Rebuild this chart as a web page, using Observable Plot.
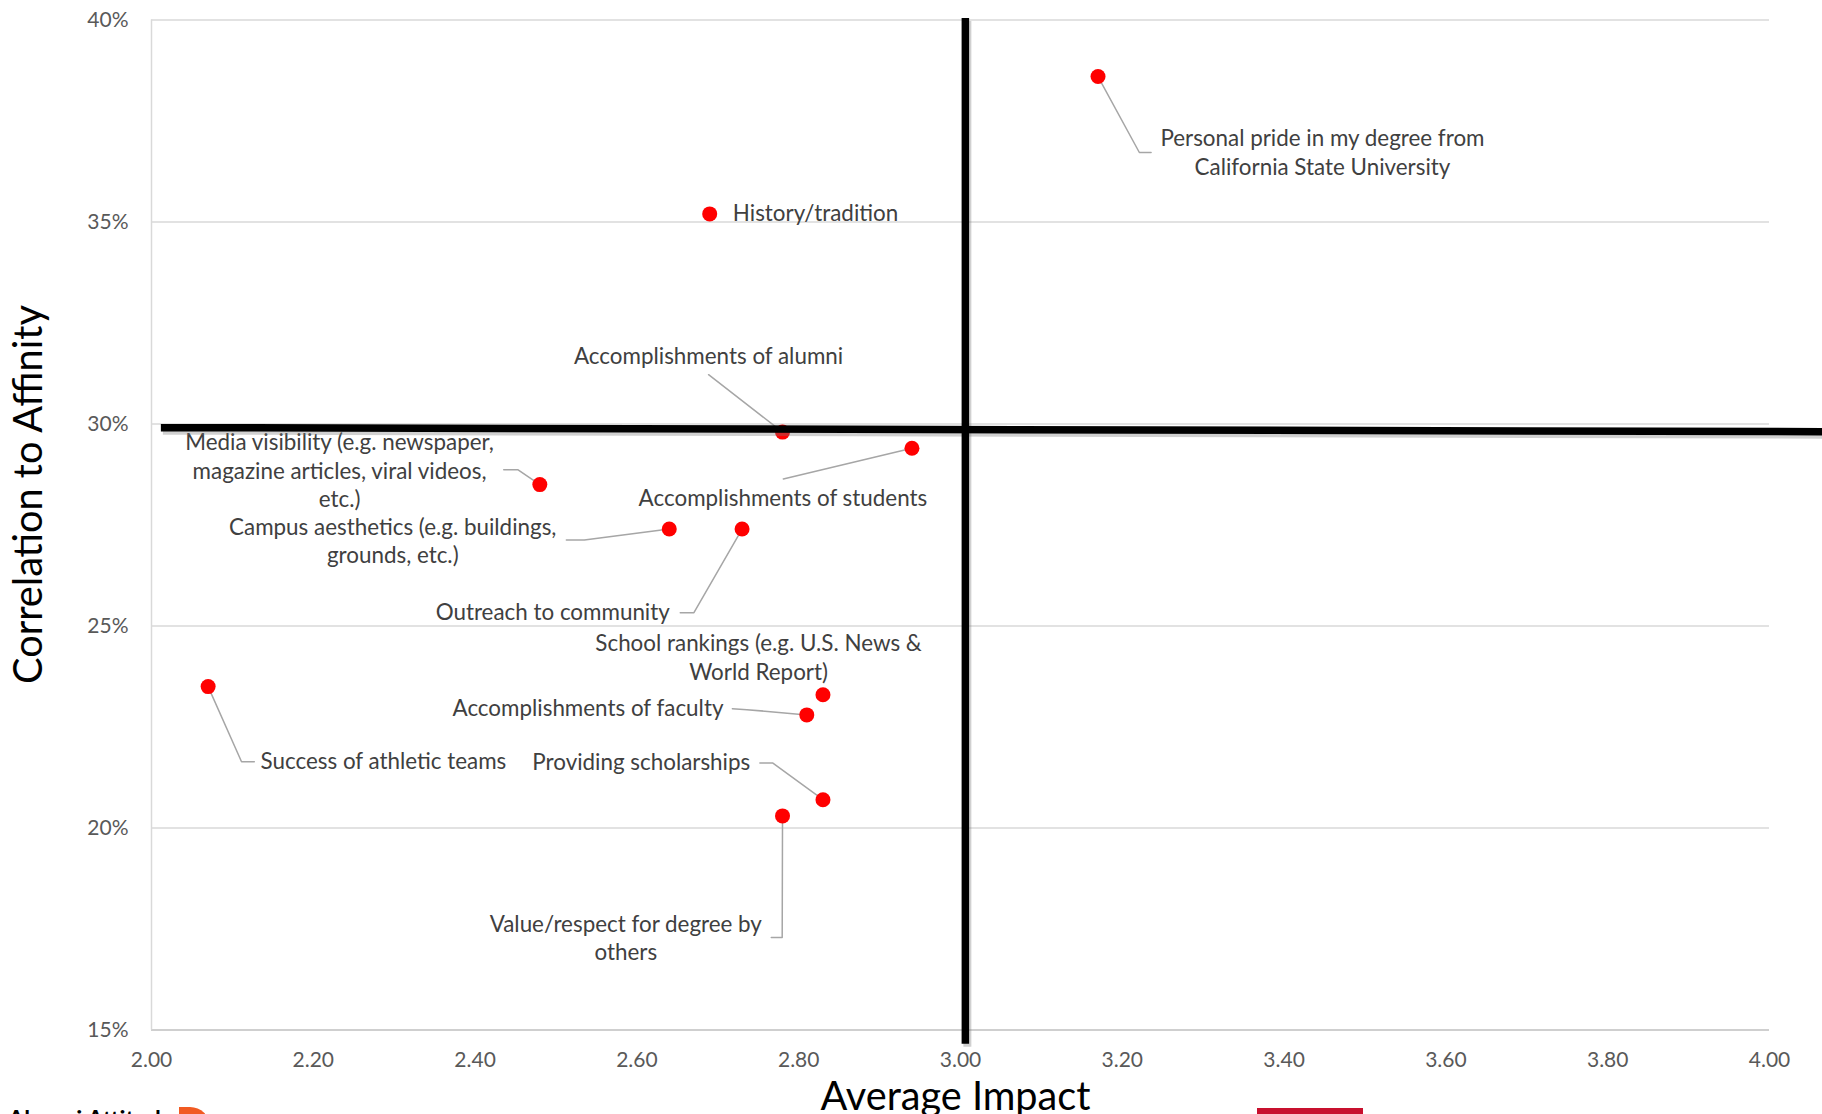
<!DOCTYPE html>
<html>
<head>
<meta charset="utf-8">
<script src="https://cdn.jsdelivr.net/npm/d3@7"></script>
<script src="https://cdn.jsdelivr.net/npm/@observablehq/plot@0.6"></script>
<style>
html, body { margin: 0; padding: 0; background: #fff; overflow: hidden; width: 1822px; height: 1114px; }
#wrap { position: relative; width: 1822px; height: 1114px; overflow: hidden; }
#chart svg { display: block; }
.brand { position: absolute; left: 8px; top: 1107px; font: bold 23.5px Lato, sans-serif; line-height: 1; color: #000; white-space: nowrap; }
.brand-logo { position: absolute; left: 179px; top: 1107px; width: 31px; height: 40px; background: #f15a22; border-radius: 0 20px 20px 0; }
.brand-red { position: absolute; left: 1257px; top: 1108px; width: 106px; height: 12px; background: #c8102e; }
</style>
</head>
<body>
<div id="wrap">
  <div id="chart"></div>
  <div class="brand">Alumni Attitude</div>
  <div class="brand-logo"></div>
  <div class="brand-red"></div>
</div>
<script>
// ---- data ----
const items = [
  "Personal pride in my degree from California State University",
  "History/tradition",
  "Accomplishments of alumni",
  "Accomplishments of students",
  "Media visibility (e.g. newspaper, magazine articles, viral videos, etc.)",
  "Campus aesthetics (e.g. buildings, grounds, etc.)",
  "Outreach to community",
  "School rankings (e.g. U.S. News & World Report)",
  "Accomplishments of faculty",
  "Success of athletic teams",
  "Providing scholarships",
  "Value/respect for degree by others"
];
const labelText = [
  "Personal pride in my degree from\nCalifornia State University",
  "History/tradition",
  "Accomplishments of alumni",
  "Accomplishments of students",
  "Media visibility (e.g. newspaper,\nmagazine articles, viral videos,\netc.)",
  "Campus aesthetics (e.g. buildings,\ngrounds, etc.)",
  "Outreach to community",
  "School rankings (e.g. U.S. News &\nWorld Report)",
  "Accomplishments of faculty",
  "Success of athletic teams",
  "Providing scholarships",
  "Value/respect for degree by\nothers"
];
const avgImpact   = [3.17, 2.69, 2.78, 2.94, 2.48, 2.64, 2.73, 2.83, 2.81, 2.07, 2.83, 2.78];
const correlation = [0.386, 0.352, 0.298, 0.294, 0.285, 0.274, 0.274, 0.233, 0.228, 0.235, 0.207, 0.203];

const xTicks = [2.0, 2.2, 2.4, 2.6, 2.8, 3.0, 3.2, 3.4, 3.6, 3.8, 4.0];
const yTicks = [0.15, 0.20, 0.25, 0.30, 0.35, 0.40];
const xTitle = "Average Impact";
const yTitle = "Correlation to Affinity";

// ---- annotation layout (in data units) ----
const labelX = [3.4474, 2.7186, 2.6886, 2.7805, 2.2325, 2.2982, 2.6407, 2.7504, 2.7070, 2.1348, 2.7401, 2.5863];
const labelY = [0.3669, 0.3519, 0.3165, 0.2815, 0.2882, 0.2708, 0.2533, 0.2420, 0.2295, 0.2164, 0.2161, 0.1725];
const labelAnchor = ["middle", "start", "middle", "middle", "middle", "middle", "end", "middle", "end", "start", "end", "middle"];
// leader line points from label side toward the dot (dot itself appended)
const leaderPath = [
  [[3.2356, 0.3672], [3.2211, 0.3672]],
  null,
  [[2.6886, 0.3122]],
  [[2.7810, 0.2864]],
  [[2.4354, 0.2887], [2.4527, 0.2887]],
  [[2.5128, 0.2713], [2.5350, 0.2713]],
  [[2.6536, 0.2533], [2.6705, 0.2533]],
  null,
  [[2.7180, 0.2295], [2.7360, 0.2293]],
  [[2.1271, 0.2164], [2.1113, 0.2164]],
  [[2.7520, 0.2161], [2.7677, 0.2161]],
  [[2.7661, 0.1729], [2.7796, 0.1729]]
];
// hand-drawn quadrant dividers
const dividerV = {x1: 3.006, y1: 0.4005, x2: 3.006, y2: 0.1466};
const dividerH = {x1: 2.0116, y1: 0.2991, x2: 4.07, y2: 0.2981};

// ---- build ----
const data = items.map((name, i) => ({
  name, label: labelText[i], x: avgImpact[i], y: correlation[i],
  lx: labelX[i], ly: labelY[i], anchor: labelAnchor[i]
}));
const leaders = data.flatMap((d, i) => leaderPath[i]
  ? [...leaderPath[i].map(([x, y]) => ({name: d.name, x, y})), {name: d.name, x: d.x, y: d.y}]
  : []);

const labelFont = {fontSize: 22.4, lineHeight: 1.281, fill: "#404040", lineAnchor: "middle", dy: -2.3};

const chart = Plot.plot({
  width: 1822,
  height: 1114,
  marginLeft: 151,
  marginRight: 53,
  marginTop: 19.5,
  marginBottom: 84.5,
  x: {domain: [2, 4]},
  y: {domain: [0.15, 0.40]},
  style: {fontFamily: "Lato, sans-serif", color: "#595959", background: "#fff", overflow: "visible"},
  marks: [
    Plot.ruleY(yTicks.slice(1), {stroke: "#d9d9d9", strokeWidth: 1.5}),
    Plot.ruleY([yTicks[0]], {stroke: "#bfbfbf", strokeWidth: 1.5}),
    Plot.ruleX([xTicks[0]], {stroke: "#d9d9d9", strokeWidth: 1.5}),
    Plot.axisX({ticks: xTicks, tickFormat: d3.format(".2f"), tickSize: 0, tickPadding: 22, fontSize: 21, label: null}),
    Plot.axisY({ticks: yTicks, tickFormat: d3.format(".0%"), tickSize: 0, tickPadding: 23, fontSize: 21, label: null}),
    Plot.line(leaders, {x: "x", y: "y", z: "name", stroke: "#a6a6a6", strokeWidth: 1.5}),
    Plot.dot(data, {x: "x", y: "y", r: 7.5, fill: "#ff0000"}),
    Plot.text(data.filter(d => d.anchor === "middle"), {x: "lx", y: "ly", text: "label", textAnchor: "middle", ...labelFont}),
    Plot.text(data.filter(d => d.anchor === "start"), {x: "lx", y: "ly", text: "label", textAnchor: "start", ...labelFont}),
    Plot.text(data.filter(d => d.anchor === "end"), {x: "lx", y: "ly", text: "label", textAnchor: "end", ...labelFont}),
    // shadows of the dividers
    Plot.link([dividerV, dividerH], {x1: "x1", y1: "y1", x2: "x2", y2: "y2", stroke: "#777", strokeOpacity: 0.35, strokeWidth: 8, dx: 2, dy: 3}),
    Plot.link([dividerV, dividerH], {x1: "x1", y1: "y1", x2: "x2", y2: "y2", stroke: "#000", strokeWidth: 7.5}),
    Plot.text([xTitle], {frameAnchor: "bottom", text: d => d, textAnchor: "middle", dx: -5, dy: 67.5, fontSize: 39.7, fill: "#000", lineAnchor: "middle"}),
    Plot.text([yTitle], {frameAnchor: "left", text: d => d, textAnchor: "middle", dx: -122, dy: -30.5, rotate: -90, fontSize: 39.7, fill: "#000", lineAnchor: "middle"})
  ]
});
document.getElementById("chart").appendChild(chart);
</script>
</body>
</html>
